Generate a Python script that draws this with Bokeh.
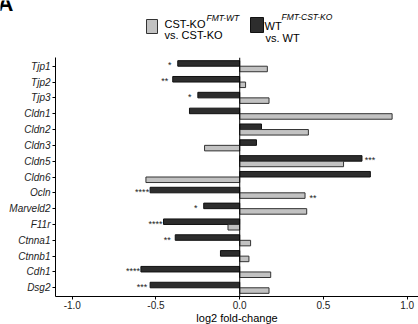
from bokeh.plotting import figure
from bokeh.models import ColumnDataSource, Range1d, FixedTicker, Span
from bokeh.layouts import column, row
from bokeh.transform import dodge
from bokeh.core.properties import value
from bokeh.embed import file_html
from bokeh.resources import INLINE

genes = ["Tjp1", "Tjp2", "Tjp3", "Cldn1", "Cldn2", "Cldn3", "Cldn5", "Cldn6",
         "Ocln", "Marveld2", "F11r", "Ctnna1", "Ctnnb1", "Cdh1", "Dsg2"]
# WT(FMT-CST-KO) vs WT  (dark bars)
wt_vals = [-0.37, -0.40, -0.25, -0.30, 0.13, 0.10, 0.73, 0.78,
           -0.535, -0.215, -0.455, -0.385, -0.115, -0.59, -0.535]
wt_sig = ["*", "**", "*", "", "", "", "***", "",
          "****", "*", "****", "**", "", "****", "***"]
# CST-KO(FMT-WT) vs CST-KO  (light bars)
ko_vals = [0.165, 0.035, 0.175, 0.91, 0.41, -0.21, 0.62, -0.56,
           0.39, 0.40, -0.07, 0.065, 0.055, 0.185, 0.175]
ko_sig = ["", "", "", "", "", "", "", "",
          "**", "", "", "", "", "", ""]
x_ticks = [-1.0, -0.5, 0.0, 0.5, 1.0]
x_tick_labels = ["-1.0", "-0.5", "0.0", "0.5", "1.0"]

FONT = "Liberation Sans"
DARK = "#2d2d2d"
LIGHT = "#c2c2c2"

idx = list(range(len(genes)))
src = ColumnDataSource(dict(
    idx=idx, gene=genes,
    wt=wt_vals, ko=ko_vals,
    wt_sig=wt_sig, ko_sig=ko_sig,
    wt_off=[8 if v > 0 else -8 for v in wt_vals],
    ko_off=[8 if v > 0 else -8 for v in ko_vals],
    zero=[0] * len(genes),
))

def blank(fw, fh, x0, x1, border_left=0):
    f = figure(frame_width=fw, frame_height=fh,
               x_range=Range1d(x0, x1), y_range=Range1d(fh, 0),
               x_axis_type=None, y_axis_type=None,
               output_backend="svg", toolbar_location=None,
               min_border_left=border_left, min_border_right=0,
               min_border_top=0, min_border_bottom=0)
    f.grid.visible = False
    f.outline_line_color = None
    f.background_fill_color = None
    f.border_fill_color = None
    return f

def ftext(f, x, y, t, size, style="normal"):
    f.text(x=[x], y=[y], text=[t], text_font=value(FONT),
           text_font_size=size, text_font_style=style,
           text_color="black", text_align="left", text_baseline="alphabetic")

# ---------- panel letter ----------
afig = blank(55, 57, 0, 55)
ftext(afig, -3, 3, "A", "22px", style="bold")

# ---------- legend strip (pixels 55..418) ----------
leg = blank(363, 57, 55, 418)
leg.rect(x=[151.5], y=[26], width=11, height=14, fill_color=LIGHT,
         line_color="#333333", line_width=1)
leg.rect(x=[256.5], y=[24.5], width=13, height=15, fill_color=DARK,
         line_color="#111111", line_width=1)
ftext(leg, 164, 23, "CST-KO", "11px")
ftext(leg, 206, 17, "FMT-WT", "8.5px", style="italic")
ftext(leg, 164, 34, "vs. CST-KO", "11px")
ftext(leg, 264, 25, "WT", "11px")
ftext(leg, 281, 16, "FMT-CST-KO", "8.5px", style="italic")
ftext(leg, 265, 37, "vs. WT", "11px")

# ---------- main chart ----------
p = figure(frame_width=363, frame_height=239, x_range=Range1d(-1.1, 1.0675),
           y_range=Range1d(len(genes) - 1 + 0.55, -0.55),
           output_backend="svg", toolbar_location=None,
           min_border_left=55, min_border_right=0, min_border_top=0,
           min_border_bottom=28)
p.grid.visible = False
p.outline_line_color = None
p.background_fill_color = "white"

p.hbar(y=dodge("idx", -0.175), left="zero", right="wt", height=0.35, source=src,
       fill_color=DARK, line_color="#111111", line_width=1)
p.hbar(y=dodge("idx", 0.175), left="zero", right="ko", height=0.35, source=src,
       fill_color=LIGHT, line_color="#333333", line_width=1)

p.add_layout(Span(location=0, dimension="height", line_color="black", line_width=1))

p.text(x="wt", y=dodge("idx", -0.175), text="wt_sig", x_offset="wt_off", y_offset=2,
       source=src, text_font=value(FONT), text_font_size="9px", text_color="#222222",
       text_align="center", text_baseline="middle")
p.text(x="ko", y=dodge("idx", 0.175), text="ko_sig", x_offset="ko_off", y_offset=2,
       source=src, text_font=value(FONT), text_font_size="9px", text_color="#222222",
       text_align="center", text_baseline="middle")

p.yaxis.ticker = FixedTicker(ticks=idx)
p.yaxis.major_label_overrides = {i: g for i, g in zip(idx, genes)}
p.yaxis.major_label_text_font_style = "italic"
p.xaxis.ticker = FixedTicker(ticks=x_ticks)
p.xaxis.major_label_overrides = {t: l for t, l in zip(x_ticks, x_tick_labels)}
p.xaxis.axis_label = "log2 fold-change"

for ax in (p.xaxis, p.yaxis):
    ax.axis_line_color = "black"
    ax.axis_line_width = 1
    ax.major_tick_line_color = "black"
    ax.major_tick_out = 3
    ax.major_tick_in = 0
    ax.minor_tick_line_color = None
    ax.major_label_text_font = FONT
    ax.major_label_text_font_size = "10px"
    ax.major_label_text_color = "#222222"
    ax.axis_label_text_font = FONT
    ax.axis_label_text_font_size = "11px"
    ax.axis_label_text_font_style = "normal"
    ax.axis_label_text_color = "black"

p.yaxis.major_label_standoff = 2
p.xaxis.major_label_standoff = 1
p.xaxis.axis_label_standoff = 0

layout = column(row(afig, leg, spacing=0), p, spacing=0)
open("out.html", "w").write(file_html(layout, INLINE))
